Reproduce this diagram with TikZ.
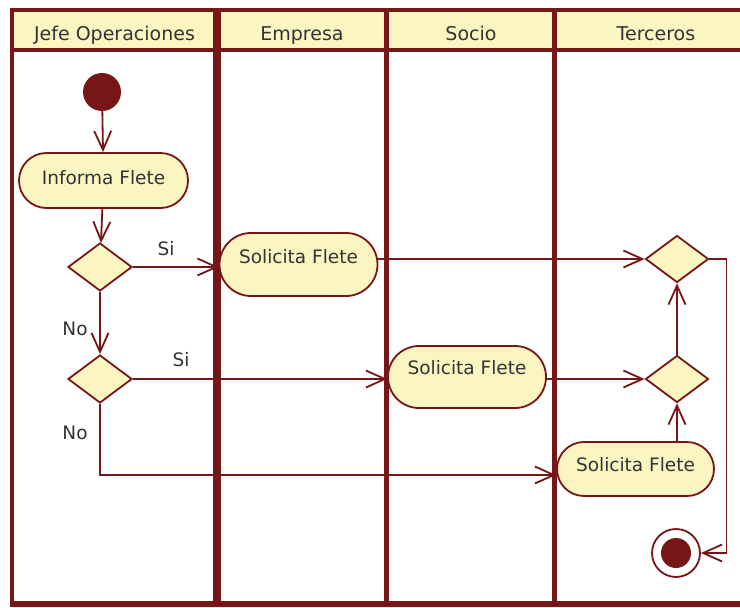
\documentclass[tikz,border=0pt]{standalone}
\usepackage{fontspec}
\setmainfont{DejaVu Sans}
\usetikzlibrary{arrows.meta,shapes.geometric}

\definecolor{umlred}{HTML}{761616}
\definecolor{umlfill}{HTML}{FBF6C1}
\definecolor{umltext}{HTML}{333333}

\tikzset{
  frameline/.style={draw=umlred, line width=4pt},
  lanehead/.style={text=umltext, anchor=base, inner sep=0pt,
    font=\fontsize{19}{22}\selectfont},
  action/.style={draw=umlred, fill=umlfill, line width=1.8pt, rectangle,
    text=umltext, inner sep=0pt, text height=14pt,
    font=\fontsize{18.5}{22}\selectfont},
  pill/.style args={#1x#2r#3d#4}{minimum width=#1, minimum height=#2,
    rounded corners=#3, text depth=#4},
  decision/.style={diamond, draw=umlred, fill=umlfill, line width=1.8pt,
    minimum width=64pt, minimum height=48pt, inner sep=0pt},
  initial/.style={circle, fill=umlred, minimum size=38pt, inner sep=0pt},
  final/.style={circle, draw=umlred, fill=white, line width=1.8pt,
    minimum size=48pt, inner sep=0pt},
  guard/.style={text=umltext, inner sep=0pt,
    font=\fontsize{18.5}{22}\selectfont},
  flow/.style={draw=umlred, line width=1.8pt,
    -{Straight Barb[length=19pt,width=17pt]}},
}

\begin{document}
\begin{tikzpicture}[x=1pt,y=-1pt]
  \useasboundingbox (0,0) rectangle (740,608);
  \clip (0,0) rectangle (740,608);
  \fill[white] (0,0) rectangle (740,608);

  % swimlane frame
  \fill[umlfill] (12,10) rectangle (770,50);
  \draw[frameline] (770,10) -- (12,10) -- (12,604);
  \draw[frameline] (12,50) -- (770,50);
  \draw[draw=umlred, line width=6pt] (10,604) -- (770,604);
  \draw[draw=umlred, line width=8pt] (217,8) -- (217,607);
  \draw[draw=umlred, line width=5.5pt] (386.5,8) -- (386.5,607);
  \draw[draw=umlred, line width=5pt] (554.5,8) -- (554.5,607);

  % lane titles
  \node[lanehead] (hJefe) at (114.5,40) {Jefe Operaciones};
  \node[lanehead] (hEmp)  at (302,40) {Empresa};
  \node[lanehead] (hSoc)  at (471,40) {Socio};
  \node[lanehead] (hTer)  at (656,40) {Terceros};

  % Jefe Operaciones
  \node[initial] (start) at (102,92) {};
  \node[action, pill=169pt x55pt r27.5pt d6.5pt] (inf) at (103.5,180.5) {Informa Flete};
  \node[decision] (d1) at (100,267) {};
  \node[decision] (d2) at (100,379) {};

  % Empresa, Socio, Terceros
  \node[action, pill=158pt x63pt r31.5pt d16.5pt] (se) at (298.5,264.5) {Solicita Flete};
  \node[action, pill=158pt x62pt r31pt d18.5pt] (ss) at (467,377) {Solicita Flete};
  \node[action, pill=157pt x54pt r27pt d9.5pt] (ts) at (635.5,469) {Solicita Flete};
  \node[decision, minimum width=63pt, minimum height=47pt] (t1) at (677,259) {};
  \node[decision, minimum width=63pt, minimum height=47pt] (t2) at (677,379) {};
  \node[final] (end) at (676,553) {};
  \fill[umlred] (end.center) circle (15pt);

  % control flow
  \draw[flow] (start) -- (inf);
  \draw[flow] (inf) -- (d1);
  \draw[flow] (d1.east) -- (d1.east -| se.west);
  \draw[flow] (d1.south) -- (d2.north);
  \draw[flow] (d2.east) -- (d2.east -| ss.west);
  \draw[flow] (d2.south) |- ([yshift=-6pt]ts.west);
  \draw[flow] (se.east |- t1.west) -- (t1.west);
  \draw[flow] (ss.east |- t2.west) -- (t2.west);
  \draw[flow] (t2.south |- ts.north) -- (t2.south);
  \draw[flow] (t2.north) -- (t1.south);
  \draw[flow] (t1.east) -- ++(17pt,0) |- (end.east);

  % guards
  \node[guard] (g1) at (166,249) {Si};
  \node[guard] (g2) at (75,329) {No};
  \node[guard] (g3) at (181,360) {Si};
  \node[guard] (g4) at (75,433) {No};
\end{tikzpicture}
\end{document}
